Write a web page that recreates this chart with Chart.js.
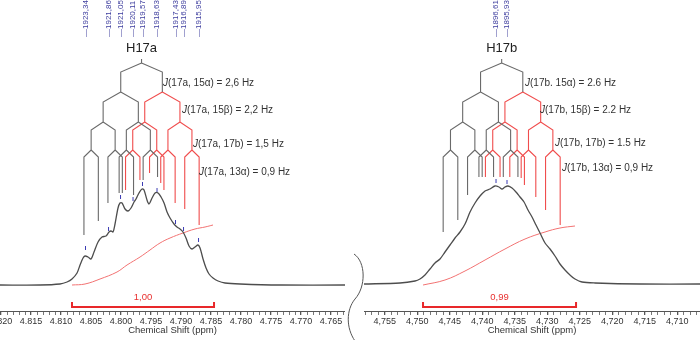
<!DOCTYPE html>
<html>
<head>
<meta charset="utf-8">
<script src="https://cdn.jsdelivr.net/npm/chart.js@4"></script>
<style>
  html, body { margin: 0; padding: 0; background: #fff; }
  #wrap { position: relative; width: 700px; height: 340px; overflow: hidden; }
  #leftBox { position: absolute; left: 0; top: 0; width: 345px; height: 340px; }
  #rightBox { position: absolute; left: 345px; top: 0; width: 355px; height: 340px; }
</style>
</head>
<body>
<div id="wrap">
  <div id="leftBox"><canvas id="leftChart" width="345" height="340"></canvas></div>
  <div id="rightBox"><canvas id="rightChart" width="355" height="340"></canvas></div>
</div>
<script>
const FONT = '"Liberation Sans", Arial, sans-serif';

// axis tick labels
const leftTicks = ['4.820', '4.815', '4.810', '4.805', '4.800', '4.795', '4.790', '4.785', '4.780', '4.775', '4.770', '4.765'];
const rightTicks = ['4,755', '4,750', '4,745', '4,740', '4,735', '4,730', '4,725', '4,720', '4,715', '4,710'];

// coupling constants (Hz), same pattern for both protons
const couplingHz = [2.6, 2.2, 1.5, 0.9];
const leftCouplingText = ['(17a, 15\u03b1) = 2,6 Hz', '(17a, 15\u03b2) = 2,2 Hz', '(17a, 17b) = 1,5 Hz', '(17a, 13\u03b1) = 0,9 Hz'];
const rightCouplingText = ['(17b. 15\u03b1) = 2.6 Hz', '(17b, 15\u03b2) = 2.2 Hz', '(17b, 17b) = 1.5 Hz', '(17b, 13\u03b1) = 0,9 Hz'];

// H17a spectrum
const leftShift = [4.82017, 4.81350, 4.81017, 4.80900, 4.80817, 4.80733, 4.80683, 4.80633, 4.80600, 4.80550,
  4.80500, 4.80450, 4.80383, 4.80317, 4.80250, 4.80200, 4.80167, 4.80133, 4.80100, 4.80050,
  4.80017, 4.79983, 4.79933, 4.79883, 4.79833, 4.79783, 4.79750, 4.79700, 4.79650, 4.79617,
  4.79567, 4.79533, 4.79483, 4.79433, 4.79383, 4.79333, 4.79283, 4.79233, 4.79183, 4.79117,
  4.79067, 4.79017, 4.78967, 4.78917, 4.78867, 4.78817, 4.78767, 4.78717, 4.78683, 4.78633,
  4.78583, 4.78533, 4.78467, 4.78383, 4.78267, 4.78017, 4.77350, 4.76267];
const leftIntensity = [0, 0, 1, 3, 6, 12, 20, 27, 29, 28,
  26, 33, 43, 48, 49, 53, 54, 53, 61, 77,
  82, 82, 76, 74, 77, 83, 86, 92, 96, 95,
  85, 81, 87, 92, 92, 88, 82, 73, 67, 61,
  58, 56, 53, 47, 39, 36, 38, 40, 37, 26,
  17, 11, 7, 4, 2, 1, 0, 0];
const leftIntegralShift = [4.80817, 4.80600, 4.80350, 4.80067, 4.79900, 4.79683, 4.79517, 4.79350, 4.79183, 4.78967, 4.78767, 4.78600, 4.78467];
const leftIntegralValue = [0, 1, 6, 13, 20, 28, 35, 42, 47, 52, 56, 58, 60];
const leftIntegralRange = [4.80817, 4.78450];
const leftIntegralLabel = '1,00';
const leftPeakShift = [4.80592, 4.80208, 4.80008, 4.79800, 4.79642, 4.79400, 4.79092, 4.78958, 4.78708];
const leftPeakHz = ['1923,34', '1921,86', '1921,05', '1920,11', '1919,57', '1918,63', '1917,43', '1916,89', '1915,95'];
const leftPeakTop = [35, 54, 86, 84, 99, 93, 61, 54, 43];
const leftTreeCenter = 4.79658;
const leftLeafEnd = [50, 64, 82, 92, 92, 90, 105, 108, 95, 105, 112, 95, 102, 82, 76, 60];

// H17b spectrum
const rightShift = [4.7582, 4.75266, 4.75035, 4.74959, 4.74882, 4.74805, 4.74728, 4.74651, 4.74574, 4.74497,
  4.7442, 4.74343, 4.74266, 4.74189, 4.74112, 4.74035, 4.73958, 4.73882, 4.73805, 4.73743,
  4.73697, 4.73651, 4.73605, 4.73543, 4.73482, 4.7342, 4.73358, 4.73297, 4.73235, 4.73174,
  4.73112, 4.73035, 4.72958, 4.72882, 4.72805, 4.72728, 4.72651, 4.72574, 4.72466, 4.72266,
  4.71574, 4.70651];
const rightIntensity = [1, 2, 4, 6, 10, 16, 22, 26, 33, 40,
  47, 53, 61, 73, 82, 89, 94, 96, 99, 98,
  96, 98, 99, 97, 93, 88, 83, 75, 68, 60,
  52, 42, 36, 29, 21, 15, 10, 6, 3, 2,
  1, 1];
const rightIntegralShift = [4.74912, 4.74574, 4.74266, 4.73958, 4.73651, 4.73343, 4.73035, 4.72805, 4.72574];
const rightIntegralValue = [0, 5, 14, 25, 36, 46, 53, 57, 59];
const rightIntegralRange = [4.74912, 4.72558];
const rightIntegralLabel = '0,99';
const rightPeakShift = [4.73789, 4.7362];
const rightPeakHz = ['1896,61', '1895,93'];
const rightPeakTop = [102, 101];
const rightTreeCenter = 4.73702;
const rightLeafEnd = [53, 65, 90, 108, 108, 108, 108, 108, 108, 108, 108, 100, 107, 88, 75, 60];

// heights of the splitting-tree levels
const treeRootTop = 226;
const treeLevels = [{ top: 222, bottom: 213 }, { top: 193, bottom: 183 }, { top: 163, bottom: 155 }, { top: 135, bottom: 128 }];

const GAP = { x: NaN, y: NaN };
const pts = (xs, ys) => xs.map((x, i) => ({ x, y: ys[i] }));

function treeSegments(center, mhz, leafEnd) {
  const gray = [{ x: center, y: treeRootTop }, { x: center, y: treeLevels[0].top }, GAP];
  const red = [];
  let nodes = [{ x: center, side: 0 }];
  couplingHz.forEach((j, i) => {
    const half = j / mhz / 2;
    const lvl = treeLevels[i];
    const next = [];
    nodes.forEach(n => {
      [1, -1].forEach(sign => {
        next.push({ x: n.x + sign * half, px: n.x, side: i === 0 ? sign : n.side });
      });
    });
    next.forEach((c, k) => {
      const target = (i === 0 || c.side > 0) ? gray : red;
      const endY = i < couplingHz.length - 1 ? treeLevels[i + 1].top : leafEnd[k];
      target.push({ x: c.px, y: lvl.top }, { x: c.x, y: lvl.bottom }, { x: c.x, y: endY }, GAP);
    });
    nodes = next;
  });
  return { gray, red };
}

function markerSegments(shifts, tops) {
  const out = [];
  shifts.forEach((s, i) => out.push({ x: s, y: tops[i] }, { x: s, y: tops[i] + 4 }, GAP));
  return out;
}

function bracketSegments(range) {
  return [{ x: range[0], y: -17 }, { x: range[0], y: -22 }, { x: range[1], y: -22 }, { x: range[1], y: -17 }];
}

const parseTick = s => parseFloat(s.replace(',', '.'));

function makeTextPlugin(cfg) {
  return {
    id: 'nmrText',
    afterDatasetsDraw(chart) {
      const { ctx, scales: { x, y } } = chart;
      ctx.save();
      ctx.fillStyle = '#222';
      ctx.font = '13px ' + FONT;
      ctx.textAlign = 'center';
      ctx.textBaseline = 'middle';
      ctx.fillText(cfg.title, x.getPixelForValue(cfg.center), y.getPixelForValue(237));

      ctx.fillStyle = '#333';
      ctx.textAlign = 'left';
      cfg.couplings.forEach((t, i) => {
        const px = x.getPixelForValue(cfg.couplingAt[i][0]);
        const py = y.getPixelForValue(cfg.couplingAt[i][1]);
        ctx.font = 'italic 10px ' + FONT;
        ctx.fillText('J', px, py);
        const w = ctx.measureText('J').width;
        ctx.font = '10px ' + FONT;
        ctx.fillText(t, px + w, py);
      });

      ctx.fillStyle = '#3d3d9e';
      ctx.font = '8px ' + FONT;
      cfg.peakShift.forEach((s, i) => {
        ctx.save();
        ctx.translate(x.getPixelForValue(s), y.getPixelForValue(248));
        ctx.rotate(-Math.PI / 2);
        ctx.textAlign = 'left';
        ctx.textBaseline = 'middle';
        ctx.fillText('\u2014' + cfg.peakHz[i], 0, 0);
        ctx.restore();
      });

      ctx.fillStyle = '#e8302f';
      ctx.font = '9.5px ' + FONT;
      ctx.textAlign = 'center';
      ctx.fillText(cfg.integralLabel, x.getPixelForValue((cfg.integralRange[0] + cfg.integralRange[1]) / 2), y.getPixelForValue(-12));
      ctx.restore();
    }
  };
}

const bracePlugin = {
  id: 'axisBreak',
  afterDraw(chart) {
    const ctx = chart.ctx;
    ctx.save();
    ctx.strokeStyle = '#555';
    ctx.lineWidth = 1;
    ctx.beginPath();
    ctx.moveTo(9, 254);
    ctx.bezierCurveTo(21, 262, 21, 287, 10, 299);
    ctx.bezierCurveTo(1, 310, 1, 328, 10, 341);
    ctx.stroke();
    ctx.restore();
  }
};

function makePanel(id, p) {
  const tree = treeSegments(p.center, p.mhz, p.leafEnd);
  const line = (data, color, width, tension) => ({
    data, borderColor: color, borderWidth: width, pointRadius: 0, showLine: true,
    tension: tension || 0, spanGaps: false, fill: false
  });
  const minor = [];
  for (let k = Math.ceil(p.min * 1000 - 1e-6); k <= Math.floor(p.max * 1000 + 1e-6); k++) minor.push(k / 1000);
  const isMajor = v => p.ticks.some(t => Math.abs(parseTick(t) - v) < 1e-7);

  return new Chart(document.getElementById(id), {
    type: 'scatter',
    data: {
      datasets: [
        line(pts(p.shift, p.intensity), '#4d4d4d', 1.3, 0.3),
        line(pts(p.integralShift, p.integralValue), '#f27272', 1, 0.4),
        line(tree.gray, '#6a6a6a', 1.1),
        line(tree.red, '#f04d4d', 1.1),
        line(markerSegments(p.peakShift, p.peakTop), '#3b3bb3', 1),
        line(bracketSegments(p.integralRange), '#e8282a', 2)
      ]
    },
    options: {
      responsive: false,
      animation: false,
      layout: { padding: { left: p.padLeft, right: 0, top: 0, bottom: 0 } },
      plugins: { legend: { display: false }, tooltip: { enabled: false } },
      scales: {
        x: {
          type: 'linear', reverse: true, min: p.min, max: p.max,
          afterBuildTicks: s => { s.ticks = minor.map(v => ({ value: v })); },
          afterFit: s => { s.height = 29; },
          ticks: {
            autoSkip: false, maxRotation: 0, minRotation: 0, padding: 1,
            color: '#333', font: { family: FONT, size: 9 },
            callback: v => { const t = p.ticks.find(t => Math.abs(parseTick(t) - v) < 1e-7); return t || ''; }
          },
          grid: {
            drawOnChartArea: false, drawTicks: true, tickLength: 4, color: '#555',
            lineWidth: c => (c.tick && isMajor(c.tick.value) ? 1.3 : 0.8)
          },
          border: { display: true, color: '#555', width: 1 },
          title: { display: true, text: 'Chemical Shift (ppm)', color: '#333', font: { family: FONT, size: 9.5 }, padding: { top: 0, bottom: 4 } }
        },
        y: { display: false, min: -26, max: 285 }
      }
    },
    plugins: p.extra.concat([makeTextPlugin(p)])
  });
}

makePanel('leftChart', {
  min: 4.76267, max: 4.82017, padLeft: 0, ticks: leftTicks,
  shift: leftShift, intensity: leftIntensity,
  integralShift: leftIntegralShift, integralValue: leftIntegralValue,
  integralRange: leftIntegralRange, integralLabel: leftIntegralLabel,
  peakShift: leftPeakShift, peakHz: leftPeakHz, peakTop: leftPeakTop,
  center: leftTreeCenter, mhz: 375, leafEnd: leftLeafEnd,
  title: 'H17a', couplings: leftCouplingText,
  couplingAt: [[4.79300, 202], [4.78983, 175], [4.78800, 141], [4.78700, 113]],
  extra: []
});

makePanel('rightChart', {
  min: 4.70651, max: 4.7582, padLeft: 19, ticks: rightTicks,
  shift: rightShift, intensity: rightIntensity,
  integralShift: rightIntegralShift, integralValue: rightIntegralValue,
  integralRange: rightIntegralRange, integralLabel: rightIntegralLabel,
  peakShift: rightPeakShift, peakHz: rightPeakHz, peakTop: rightPeakTop,
  center: rightTreeCenter, mhz: 400, leafEnd: rightLeafEnd,
  title: 'H17b', couplings: rightCouplingText,
  couplingAt: [[4.73343, 202], [4.73112, 175], [4.72882, 142], [4.72774, 117]],
  extra: [bracePlugin]
});
</script>
</body>
</html>
